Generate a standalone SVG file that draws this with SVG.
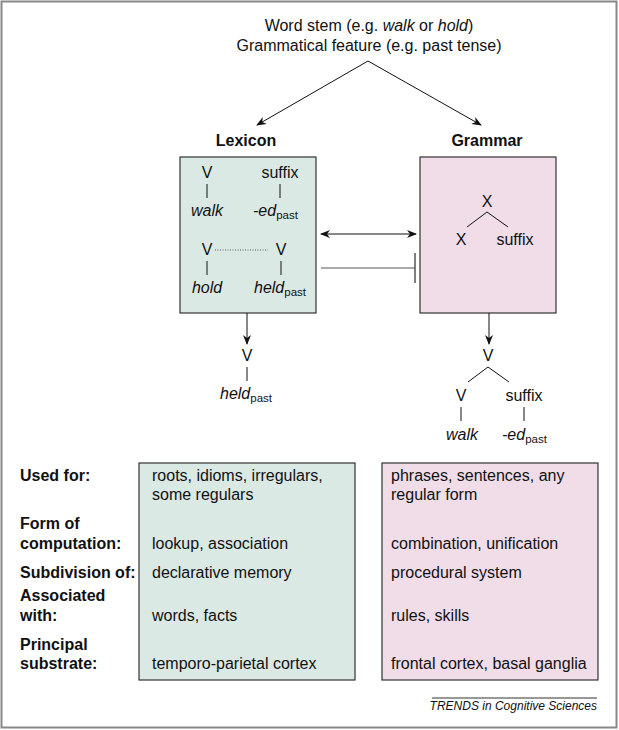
<svg xmlns="http://www.w3.org/2000/svg" width="619" height="730" viewBox="0 0 619 730">
<style>
text{font-family:"Liberation Sans",Arial,sans-serif;font-size:16px;fill:#111}
.b{font-weight:bold}
.i{font-style:italic}
.m{text-anchor:middle}
.s{font-size:11.5px}
.ln{stroke:#111;stroke-width:1;fill:none}
.lex{fill:#dbe9e5;stroke:#333;stroke-width:1.2}
.gr{fill:#f0dde8;stroke:#333;stroke-width:1.2}
</style>
<defs>
<marker id="ah" markerWidth="10" markerHeight="8" refX="9" refY="4" orient="auto-start-reverse" markerUnits="userSpaceOnUse">
<path d="M0,0 L10,4 L0,8 L3,4 Z" fill="#111"/>
</marker>
</defs>
<rect x="1.5" y="1.5" width="615" height="726" fill="#fff" stroke="#888" stroke-width="2"/>

<g id="input">
<text class="m" x="369" y="31">Word stem (e.g. <tspan class="i">walk</tspan> or <tspan class="i">hold</tspan>)</text>
<text class="m" x="369" y="51">Grammatical feature (e.g. past tense)</text>
</g>

<g id="lexicon">
<text class="b m" x="246" y="146">Lexicon</text>
<rect class="lex" x="180" y="157" width="136" height="156"/>
<text class="m" x="207" y="178">V</text>
<line class="ln" x1="207" y1="184" x2="207" y2="198"/>
<text class="m i" x="207" y="216">walk</text>
<text class="m" x="280" y="178">suffix</text>
<line class="ln" x1="280" y1="184" x2="280" y2="198"/>
<text x="253" y="216"><tspan class="i">-ed</tspan><tspan class="s" dy="3">past</tspan></text>
<text class="m" x="207" y="255">V</text>
<line x1="215" y1="250" x2="268" y2="250" stroke="#555" stroke-width="1" stroke-dasharray="1,1.5"/>
<text class="m" x="281" y="255">V</text>
<line class="ln" x1="207" y1="261" x2="207" y2="275"/>
<line class="ln" x1="281" y1="261" x2="281" y2="275"/>
<text class="m i" x="207" y="293">hold</text>
<text x="254" y="293"><tspan class="i">held</tspan><tspan class="s" dy="3">past</tspan></text>
</g>

<g id="grammar">
<text class="b m" x="487" y="146">Grammar</text>
<rect class="gr" x="420" y="157" width="136" height="156"/>
<text class="m" x="487" y="207">X</text>
<line class="ln" x1="487" y1="212" x2="467" y2="227"/>
<line class="ln" x1="487" y1="212" x2="508" y2="227"/>
<text class="m" x="461" y="245">X</text>
<text class="m" x="515" y="245">suffix</text>
</g>

<g id="lexicon-output">
<text class="m" x="247" y="361">V</text>
<line class="ln" x1="247" y1="367" x2="247" y2="381"/>
<text x="220" y="399"><tspan class="i">held</tspan><tspan class="s" dy="3">past</tspan></text>
</g>

<g id="grammar-output">
<text class="m" x="488" y="361">V</text>
<line class="ln" x1="488" y1="367" x2="468" y2="382"/>
<line class="ln" x1="488" y1="367" x2="509" y2="382"/>
<text class="m" x="461" y="401">V</text>
<text class="m" x="524" y="401">suffix</text>
<line class="ln" x1="461" y1="407" x2="461" y2="421"/>
<line class="ln" x1="524" y1="407" x2="524" y2="421"/>
<text class="m i" x="462" y="440">walk</text>
<text x="502" y="440"><tspan class="i">-ed</tspan><tspan class="s" dy="3">past</tspan></text>
</g>

<g id="connectors">
<line class="ln" x1="368" y1="61" x2="257" y2="125" marker-end="url(#ah)"/>
<line class="ln" x1="368" y1="61" x2="481" y2="125" marker-end="url(#ah)"/>
<line class="ln" x1="321" y1="234" x2="416" y2="234" marker-start="url(#ah)" marker-end="url(#ah)"/>
<line x1="321" y1="268" x2="415" y2="268" stroke="#555" stroke-width="1.2"/>
<line x1="415" y1="253" x2="415" y2="283" stroke="#555" stroke-width="1.5"/>
<line class="ln" x1="247" y1="313" x2="247" y2="344" marker-end="url(#ah)"/>
<line class="ln" x1="489" y1="313" x2="489" y2="344" marker-end="url(#ah)"/>
</g>

<g id="table">
<rect class="lex" x="139" y="463" width="216" height="217"/>
<rect class="gr" x="382" y="463" width="216" height="217"/>
<text class="b" x="20" y="481">Used for:</text>
<text class="b" x="20" y="529">Form of</text>
<text class="b" x="20" y="549">computation:</text>
<text class="b" x="20" y="578">Subdivision of:</text>
<text class="b" x="20" y="601">Associated</text>
<text class="b" x="20" y="621">with:</text>
<text class="b" x="20" y="650">Principal</text>
<text class="b" x="20" y="669">substrate:</text>
<text x="152" y="481">roots, idioms, irregulars,</text>
<text x="152" y="500">some regulars</text>
<text x="152" y="549">lookup, association</text>
<text x="152" y="578">declarative memory</text>
<text x="152" y="621">words, facts</text>
<text x="152" y="669">temporo-parietal cortex</text>
<text x="391" y="481">phrases, sentences, any</text>
<text x="391" y="500">regular form</text>
<text x="391" y="549">combination, unification</text>
<text x="391" y="578">procedural system</text>
<text x="391" y="621">rules, skills</text>
<text x="391" y="669">frontal cortex, basal ganglia</text>
</g>

<g id="footer">
<line x1="432" y1="698" x2="597" y2="698" stroke="#333" stroke-width="1"/>
<text class="i" x="597" y="710" text-anchor="end" style="font-size:12px">TRENDS in Cognitive Sciences</text>
</g>
</svg>
